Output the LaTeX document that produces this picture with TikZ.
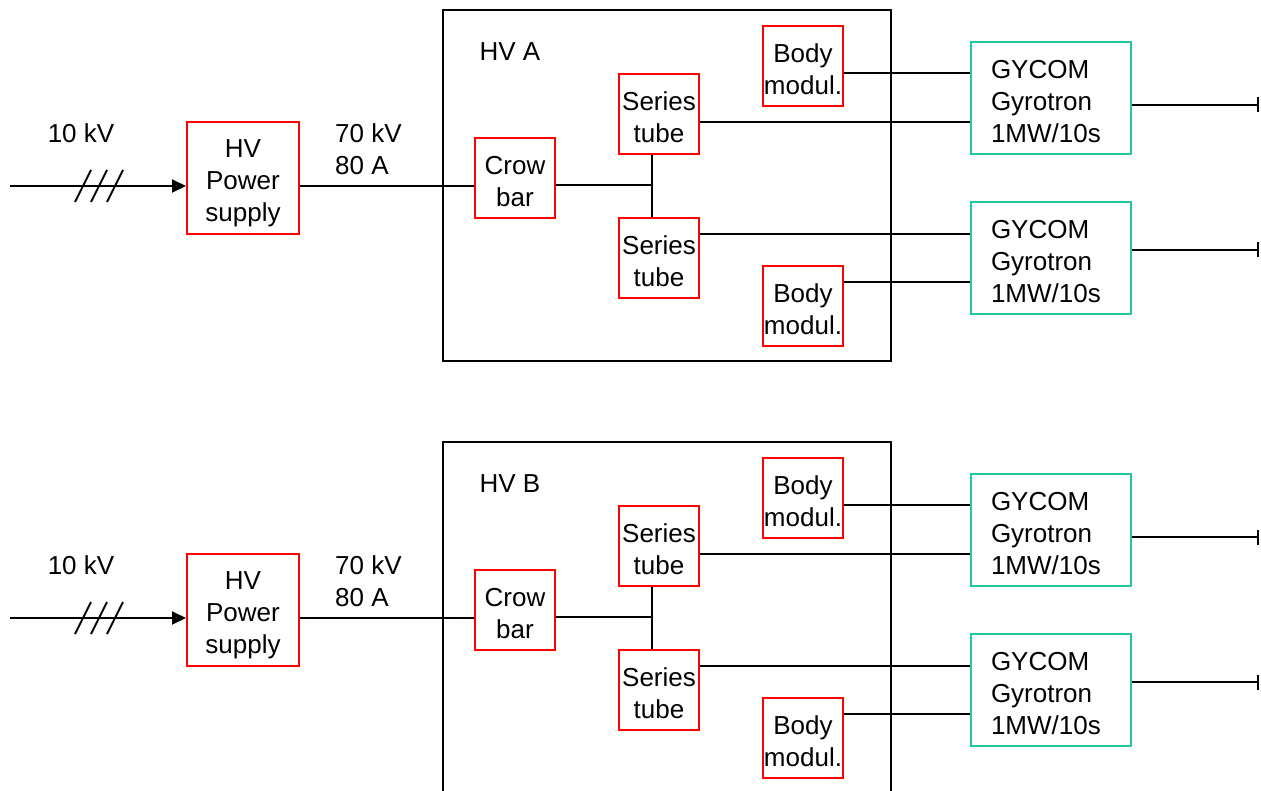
\documentclass[tikz,border=0pt]{standalone}
\usepackage{fontspec}
\setmainfont{Liberation Sans}
\usetikzlibrary{arrows.meta}
\definecolor{gyro}{RGB}{30,200,160}
\tikzset{
  txt/.style={font=\fontsize{26}{32}\selectfont, inner sep=0pt},
  redbox/.style={txt, draw=red, line width=2pt, minimum width=80pt, minimum height=80pt, text width=80pt, align=center, execute at begin node={\rule{0pt}{25pt}}},
  psubox/.style={txt, draw=red, line width=2pt, minimum width=112pt, minimum height=112pt, text width=104pt, align=center, execute at begin node={\rule{0pt}{29pt}}},
  gyrobox/.style={txt, draw=gyro, line width=2pt, minimum width=160pt, minimum height=112pt, inner xsep=20pt, text width=120pt, align=left, execute at begin node={\rule{0pt}{25pt}}},
  wire/.style={line width=2pt, black},
  frame/.style={line width=2pt, black}
}
\begin{document}
\begin{tikzpicture}[x=1pt,y=-1pt]
\path[use as bounding box, clip] (0,0) rectangle (1261,791);
\fill[white] (0,0) rectangle (1261,791);
\foreach \off/\lab/\s in {0/A/a,432/B/b}{
\begin{scope}[yshift=-\off pt]
  % frame
  \draw[frame] (443,10) rectangle (891,361);
  \node[txt] (hv\s) at (510,52) {HV \lab};
  % input
  \node[txt] (kv\s) at (81,133) {10 kV};
  \node[psubox] (psu\s) at (243,178) {HV\\Power\\supply};
  \coordinate (in\s) at (10,186);
  \draw[wire, -{Triangle[length=14pt,width=13pt]}] (in\s) -- ([yshift=-8pt]psu\s.west);
  \foreach \x in {75,91,107}{
    \draw[line width=1.8pt] (\x,202) -- (\x+16,170);
  }
  \node[txt, anchor=west, align=left] (out\s) at (335,149) {70 kV\\80 A};
  % crow bar and tubes
  \node[redbox] (crow\s) at (515,178) {Crow\\bar};
  \node[redbox] (sa\s) at (659,114) {Series\\tube};
  \node[redbox] (sb\s) at (659,258) {Series\\tube};
  \node[redbox] (ba\s) at (803,66) {Body\\modul.};
  \node[redbox] (bb\s) at (803,306) {Body\\modul.};
  \node[gyrobox] (ga\s) at (1051,98) {GYCOM\\Gyrotron\\1MW/10s};
  \node[gyrobox] (gb\s) at (1051,258) {GYCOM\\Gyrotron\\1MW/10s};
  \draw[wire] ([yshift=-8pt]psu\s.east) -- ([yshift=-8pt]crow\s.west);
  \coordinate (j\s) at (652,185);
  \draw[wire] ([yshift=-7pt]crow\s.east) -- (j\s);
  \draw[wire] ([xshift=-7pt]sa\s.south) -- ([xshift=-7pt]sb\s.north);
  \draw[wire] ([yshift=-7pt]ba\s.east) -- ([yshift=25pt]ga\s.west);
  \draw[wire] ([yshift=-8pt]sa\s.east) -- ([yshift=-24pt]ga\s.west);
  \draw[wire] ([yshift=24pt]sb\s.east) -- ([yshift=24pt]gb\s.west);
  \draw[wire] ([yshift=24pt]bb\s.east) -- ([yshift=-24pt]gb\s.west);
  % outputs
  \coordinate (oa\s) at (1259,105);
  \coordinate (ob\s) at (1259,250);
  \draw[wire, -{Bar[width=15pt]}] ([yshift=-7pt]ga\s.east) -- (oa\s);
  \draw[wire, -{Bar[width=15pt]}] ([yshift=8pt]gb\s.east) -- (ob\s);
\end{scope}
}
\end{tikzpicture}
\end{document}
